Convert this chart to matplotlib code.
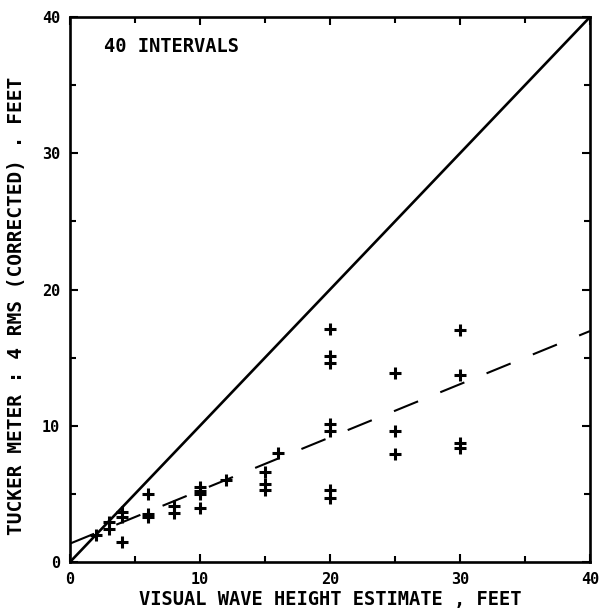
import matplotlib
matplotlib.use("Agg")
import matplotlib.pyplot as plt
from matplotlib.ticker import MultipleLocator

# Visual estimate (ft) vs Tucker meter 4*RMS (corrected, ft)
visual_ft = [2, 3, 3, 4, 4, 4,
             6, 6, 6,
             8, 8,
             10, 10, 10, 10,
             12,
             15, 15, 15,
             16,
             20, 20, 20, 20, 20, 20, 20,
             25, 25, 25,
             30, 30, 30, 30]
tucker_ft = [2.0, 2.9, 2.4, 3.7, 3.3, 1.5,
             5.0, 3.5, 3.3,
             4.1, 3.6,
             5.5, 5.2, 5.0, 4.0,
             6.0,
             6.6, 5.7, 5.3,
             8.0,
             17.1, 15.1, 14.6, 10.1, 9.6, 5.3, 4.7,
             13.9, 9.6, 7.9,
             17.0, 13.7, 8.7, 8.35]

# Regression line and 1:1 line
fit_intercept = 1.35
fit_slope = 0.39
axis_range = [0, 40]

font = "DejaVu Sans Mono"

fig = plt.figure(figsize=(6.03, 6.12), dpi=100)
ax = fig.add_axes([70 / 603, 50 / 612, 520 / 603, 545 / 612])

ax.plot(axis_range, axis_range, color="black", lw=1.9, solid_capstyle="butt")
fit_y = [fit_intercept + fit_slope * x for x in axis_range]
ax.plot(axis_range, fit_y, color="black", lw=1.5, dashes=(12.5, 11.5))
ax.plot(visual_ft, tucker_ft, linestyle="none", marker="+", color="black",
        markersize=9, markeredgewidth=2.2)

ax.set_xlim(axis_range)
ax.set_ylim(axis_range)
ax.xaxis.set_major_locator(MultipleLocator(10))
ax.yaxis.set_major_locator(MultipleLocator(10))
ax.xaxis.set_minor_locator(MultipleLocator(5))
ax.yaxis.set_minor_locator(MultipleLocator(5))
ax.tick_params(which="both", direction="in", top=True, right=True,
               width=1.5, color="black")
ax.tick_params(which="major", length=6, labelsize=11, pad=7)
ax.tick_params(which="minor", length=4)
for lab in ax.get_xticklabels() + ax.get_yticklabels():
    lab.set_fontfamily(font)
    lab.set_fontweight("bold")
for sp in ax.spines.values():
    sp.set_linewidth(1.9)

ax.set_xlabel("VISUAL WAVE HEIGHT ESTIMATE , FEET", fontfamily=font,
              fontweight="bold", fontsize=13.5, labelpad=2)
ax.set_ylabel("TUCKER METER : 4 RMS (CORRECTED) . FEET", fontfamily=font,
              fontweight="bold", fontsize=14)
ax.yaxis.set_label_coords(-0.085, 0.47)
ax.text(2.6, 37.8, "40 INTERVALS", fontfamily=font, fontweight="bold",
        fontsize=13.5, va="center", ha="left")

fig.savefig("out.png", dpi=100)
